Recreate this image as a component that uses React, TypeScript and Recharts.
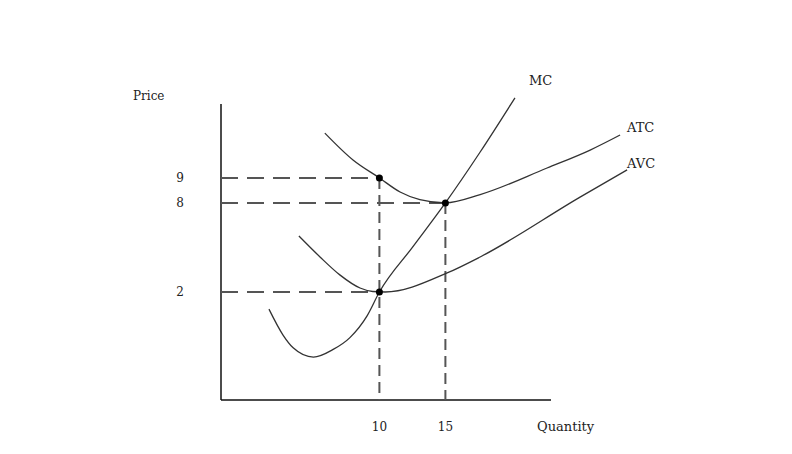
import React from 'react'
import { ComposedChart, Line, XAxis, YAxis, ReferenceLine, ReferenceDot } from 'recharts'

// diagram units: x 0..100, y 0..100 (the textbook scale is not linear, so ticks sit at chosen spots)
const qTicks = [36, 51]
const qLabels = ['10', '15']
const pTicks = [33.75, 61.6, 69.4]
const pLabels = ['2', '8', '9']
const axisTop = 92.5
const axisRight = 75

const mcData = [
  { x: 10.9, y: 28.4 }, { x: 14.1, y: 20.3 }, { x: 16.4, y: 16.3 }, { x: 21, y: 13.4 },
  { x: 25.5, y: 15.8 }, { x: 29.3, y: 19.5 }, { x: 33.2, y: 26.3 }, { x: 36, y: 33.75 },
  { x: 43.5, y: 47.7 }, { x: 51, y: 61.6 }, { x: 58.9, y: 77.5 }, { x: 66.8, y: 94.4 },
]
const atcData = [
  { x: 23.6, y: 83.4 }, { x: 30, y: 75 }, { x: 36, y: 69.4 }, { x: 40.7, y: 65 },
  { x: 45.2, y: 62.6 }, { x: 51, y: 61.6 }, { x: 58.9, y: 64.2 }, { x: 74.1, y: 72.5 },
  { x: 83.9, y: 78.1 }, { x: 90.7, y: 82.8 },
]
const avcData = [
  { x: 17.7, y: 51.25 }, { x: 22.5, y: 44.7 }, { x: 27, y: 39.1 }, { x: 31.6, y: 35 },
  { x: 34.5, y: 33.9 }, { x: 37.3, y: 33.75 }, { x: 51.4, y: 39.7 }, { x: 58.9, y: 44.7 },
  { x: 81.6, y: 63.4 }, { x: 92.3, y: 71.9 },
]
// marked points [x, y]
const points = [[36, 69.4], [51, 61.6], [36, 33.75]]

const font = '"DejaVu Serif", serif'
const txt = (left: number, top: number, s: string, size = 13) => (
  <div style={{ position: 'absolute', left, top, fontFamily: font, fontSize: size, lineHeight: '14px', color: '#222' }}>{s}</div>
)

export default function App() {
  const dash = { stroke: '#555', strokeWidth: 2 }
  return (
    <div style={{ position: 'absolute', left: 0, top: 0, width: 792, height: 454, background: '#fff' }}>
      <ComposedChart width={792} height={454} margin={{ top: 80, right: 131, bottom: 0, left: 0 }}>
        <XAxis type="number" dataKey="x" domain={[0, 100]} ticks={qTicks} height={54}
          tickFormatter={(v) => qLabels[qTicks.indexOf(v)]} axisLine={false} tickLine={false}
          tickSize={0} tickMargin={22} tick={{ fill: '#222', fontSize: 12, fontFamily: font }} />
        <YAxis type="number" dataKey="y" domain={[0, 100]} ticks={pTicks} width={221}
          tickFormatter={(v) => pLabels[pTicks.indexOf(v)]} axisLine={false} tickLine={false}
          tickSize={0} tickMargin={37} tick={{ fill: '#222', fontSize: 12, fontFamily: font }} />
        <ReferenceLine segment={[{ x: 0, y: 0 }, { x: 0, y: axisTop }]} stroke="#111" strokeWidth={1.5} />
        <ReferenceLine segment={[{ x: 0, y: 0 }, { x: axisRight, y: 0 }]} stroke="#111" strokeWidth={1.5} />
        {points.map(([x, y], i) => (
          <ReferenceLine key={'h' + i} segment={[{ x: 0, y }, { x, y }]} {...dash} strokeDasharray="17 9" />
        ))}
        {[points[0], points[1]].map(([x, y], i) => (
          <ReferenceLine key={'v' + i} segment={[{ x, y }, { x, y: 0 }]} {...dash} strokeDasharray="11 6" />
        ))}
        <Line data={mcData} dataKey="y" type="monotone" stroke="#333" strokeWidth={1.3} dot={false} isAnimationActive={false} />
        <Line data={atcData} dataKey="y" type="monotone" stroke="#333" strokeWidth={1.3} dot={false} isAnimationActive={false} />
        <Line data={avcData} dataKey="y" type="monotone" stroke="#333" strokeWidth={1.3} dot={false} isAnimationActive={false} />
        {points.map(([x, y], i) => (
          <ReferenceDot key={'d' + i} x={x} y={y} r={3.5} fill="#000" stroke="none" />
        ))}
      </ComposedChart>
      {txt(133, 89, 'Price', 12)}
      {txt(529, 74, 'MC')}
      {txt(627, 121, 'ATC')}
      {txt(627, 157, 'AVC')}
      {txt(537, 420, 'Quantity')}
    </div>
  )
}
